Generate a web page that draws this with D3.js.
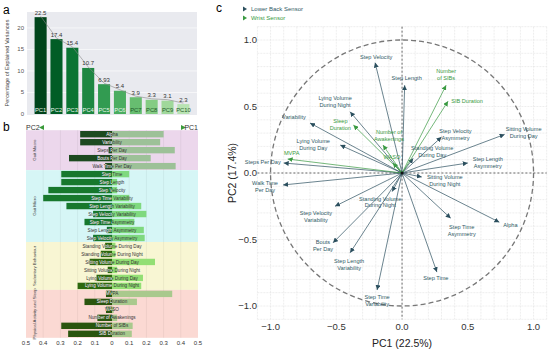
<!DOCTYPE html>
<html>
<head>
<meta charset="utf-8">
<script src="https://cdn.jsdelivr.net/npm/d3@7"></script>
<style>
  body { margin: 0; background: #fff; }
  text { font-family: "Liberation Sans", Arial, sans-serif; }
</style>
</head>
<body>
<svg id="chart" width="550" height="351"></svg>
<script>
// ---- panel a: explained variance per component
const pcNames = ['PC1', 'PC2', 'PC3', 'PC4', 'PC5', 'PC6', 'PC7', 'PC8', 'PC9', 'PC10'];
const explainedVar = [22.5, 17.4, 15.4, 10.7, 6.93, 5.4, 3.9, 3.3, 3.1, 2.3];
const varTicks = [0, 5, 10, 15, 20];

// ---- panel b: absolute loadings on PC1 (right) and PC2 (left)
const groupNames = ['Gait Macro', 'Gait Micro', 'Sedentary Behaviour', 'Physical Activity and Sleep'];
const featureNames = [
  'Alpha', 'Variability', 'Steps Per Day', 'Bouts Per Day', 'Walk Time Per Day',
  'Step Time', 'Step Length', 'Step Velocity', 'Step Time Variability', 'Step Length Variability',
  'Step Velocity Variability', 'Step Time Asymmetry', 'Step Length Asymmetry', 'Step Velocity Asymmetry',
  'Standing Volume During Day', 'Standing Volume During Night', 'Sitting Volume During Day',
  'Sitting Volume During Night', 'Lying Volume During Day', 'Lying Volume During Night',
  'MVPA', 'Sleep Duration', 'WASO', 'Number of Awakenings', 'Number of SIBs', 'SIB Duration'
];
const featureGroup = [
  'Gait Macro', 'Gait Macro', 'Gait Macro', 'Gait Macro', 'Gait Macro',
  'Gait Micro', 'Gait Micro', 'Gait Micro', 'Gait Micro', 'Gait Micro',
  'Gait Micro', 'Gait Micro', 'Gait Micro', 'Gait Micro',
  'Sedentary Behaviour', 'Sedentary Behaviour', 'Sedentary Behaviour',
  'Sedentary Behaviour', 'Sedentary Behaviour', 'Sedentary Behaviour',
  'Physical Activity and Sleep', 'Physical Activity and Sleep', 'Physical Activity and Sleep',
  'Physical Activity and Sleep', 'Physical Activity and Sleep', 'Physical Activity and Sleep'
];
const pc1Loadings = [0.30, 0.28, 0.365, 0.225, 0.37, 0.10, 0.03, 0.03, 0.10, 0.17, 0.20, 0.13, 0.185,
  0.19, 0.02, 0.02, 0.25, 0.03, 0.18, 0.17, 0.35, 0.145, 0.01, 0.03, 0.12, 0.115];
const pc2Loadings = [0.185, 0.185, 0.02, 0.25, 0.04, 0.295, 0.295, 0.37, 0.40, 0.265, 0.11, 0.16, 0.03,
  0.11, 0.04, 0.065, 0.13, 0.025, 0.09, 0.20, 0.035, 0.16, 0.035, 0.085, 0.295, 0.255];
const loadingTicks = [-0.5, -0.4, -0.3, -0.2, -0.1, 0, 0.1, 0.2, 0.3, 0.4, 0.5];

// ---- panel c: biplot vectors
const sensorNames = ['Lower Back Sensor', 'Wrist Sensor'];
const vecLabels = [
  'Step Velocity', 'Step Length', 'Lying Volume\nDuring Night', 'Variability', 'Lying Volume\nDuring Day',
  'Steps Per Day', 'Walk Time\nPer Day', 'Step Velocity\nVariability', 'Standing Volume\nDuring Night',
  'Step Velocity\nAsymmetry', 'Standing Volume\nDuring Day', 'Sitting Volume\nDuring Day',
  'Step Length\nAsymmetry', 'Sitting Volume\nDuring Night', 'Step Time\nAsymmetry', 'Alpha', 'Step Time',
  'Step Time\nVariability', 'Bouts\nPer Day', 'Step Length\nVariability',
  'Number\nof SIBs', 'SIB Duration', 'Sleep\nDuration', 'MVPA', 'Number of\nAwakenings', 'WASO'
];
const vecSensor = [
  'Lower Back Sensor', 'Lower Back Sensor', 'Lower Back Sensor', 'Lower Back Sensor', 'Lower Back Sensor',
  'Lower Back Sensor', 'Lower Back Sensor', 'Lower Back Sensor', 'Lower Back Sensor', 'Lower Back Sensor',
  'Lower Back Sensor', 'Lower Back Sensor', 'Lower Back Sensor', 'Lower Back Sensor', 'Lower Back Sensor',
  'Lower Back Sensor', 'Lower Back Sensor', 'Lower Back Sensor', 'Lower Back Sensor', 'Lower Back Sensor',
  'Wrist Sensor', 'Wrist Sensor', 'Wrist Sensor', 'Wrist Sensor', 'Wrist Sensor', 'Wrist Sensor'
];
const vecPC1 = [-0.205, 0.02, -0.395, -0.70, -0.47, -0.90, -0.905, -0.51, -0.075, 0.30, 0.085, 0.78,
  0.50, 0.15, 0.37, 0.74, 0.265, -0.19, -0.525, -0.395, 0.335, 0.35, -0.37, -0.87, -0.145, -0.07];
const vecPC2 = [0.83, 0.66, 0.46, 0.376, 0.21, 0.075, -0.09, -0.25, -0.14, 0.27, 0.11, 0.29,
  0.075, -0.03, -0.34, -0.37, -0.745, -0.88, -0.525, -0.60, 0.66, 0.54, 0.36, 0.105, 0.21, 0.075];
const axisTicks = [-1, -0.5, 0, 0.5, 1];

// label nudges in px from the arrow tip (centre of first line)
const labelNudge = [
  [1, -6], [2, -7], [-15, -14], [-16, -6], [-27, -4],
  [-21, -1], [-18, -2], [-19, 7], [-12, 7],
  [14, -6], [19, -10], [19, -5],
  [20, -4], [23, 0], [11, 9], [11, 3], [-1, 6],
  [0, 7], [-10, -1], [-1, 8],
  [0, -14], [19, 0], [-13, -4], [4, -6], [6, -13], [-1, -6]
];

const svg = d3.select('#chart');
const font = '"Liberation Sans", Arial, sans-serif';

// panel letters
svg.append('text').attr('x', 3).attr('y', 14).attr('font-size', 12).text('a');
svg.append('text').attr('x', 3).attr('y', 131).attr('font-size', 12).text('b');
svg.append('text').attr('x', 216).attr('y', 12).attr('font-size', 12).text('c');

// ================= panel a
const ax = d3.scaleBand(pcNames, [33, 191]).paddingInner(0.24).paddingOuter(0.1);
const ay = d3.scaleLinear([0, 23.7], [114, 12]);
const pa = svg.append('g');

pa.append('rect').attr('x', 27).attr('y', 12).attr('width', 170).attr('height', 103).attr('fill', '#e9eaef');
pa.selectAll('line.grid').data(varTicks.slice(1)).join('line')
  .attr('x1', 27).attr('x2', 197).attr('y1', d => ay(d)).attr('y2', d => ay(d))
  .attr('stroke', '#fff').attr('stroke-width', 0.6);

pa.selectAll('text.ytick').data(varTicks).join('text')
  .attr('x', 24).attr('y', d => ay(d) + 2).attr('text-anchor', 'end')
  .attr('font-size', 6).attr('fill', '#555').text(d => d);

pa.append('text')
  .attr('transform', `translate(9,${ay(0) / 2 + 6}) rotate(-90)`)
  .attr('text-anchor', 'middle').attr('font-size', 5.6).attr('fill', '#444')
  .text('Percentage of Explained Variances');

const barColor = (d, i) => d3.interpolateGreens(1 - i * 0.078);
pa.selectAll('rect.bar').data(explainedVar).join('rect')
  .attr('x', (d, i) => ax(pcNames[i])).attr('width', ax.bandwidth())
  .attr('y', d => ay(d)).attr('height', d => ay(0) - ay(d))
  .attr('fill', barColor);

pa.append('path')
  .datum(explainedVar)
  .attr('d', d3.line((d, i) => ax(pcNames[i]) + ax.bandwidth() / 2, d => ay(d) - 1))
  .attr('fill', 'none').attr('stroke', '#888').attr('stroke-width', 0.6);

pa.selectAll('text.val').data(explainedVar).join('text')
  .attr('x', (d, i) => ax(pcNames[i]) + ax.bandwidth() / 2).attr('y', d => ay(d) - 2.5)
  .attr('text-anchor', 'middle').attr('font-size', 6).attr('fill', '#333').text(d => d);

pa.selectAll('text.pc').data(pcNames).join('text')
  .attr('x', d => ax(d) + ax.bandwidth() / 2).attr('y', 112)
  .attr('text-anchor', 'middle').attr('font-size', 5.8)
  .attr('fill', (d, i) => i < 6 ? '#e8f5e9' : '#1f5a2a').text(d => d);

// ================= panel b
const bx = d3.scaleLinear([-0.5, 0.5], [26, 198]);
const by = d3.scaleBand(featureNames, [131, 337]).paddingInner(0.2);
const pb = svg.append('g');
const groupBg = { 'Gait Macro': '#ecd7ec', 'Gait Micro': '#d6f6f6', 'Sedentary Behaviour': '#f8f6d3', 'Physical Activity and Sleep': '#fbd9d3' };
const groupDark = { 'Gait Macro': '#1d4a20', 'Gait Micro': '#17782d', 'Sedentary Behaviour': '#2c690e', 'Physical Activity and Sleep': '#2a550e' };
const groupLight = { 'Gait Macro': '#9dc198', 'Gait Micro': '#7fd97f', 'Sedentary Behaviour': '#93df74', 'Physical Activity and Sleep': '#a9c98d' };

const step = by.step();
const groupSpans = groupNames.map(g => {
  const idx = featureGroup.map((f, i) => f === g ? i : -1).filter(i => i >= 0);
  const y0 = by(featureNames[idx[0]]) - step * by.paddingInner() / 2;
  const y1 = by(featureNames[idx[idx.length - 1]]) + by.bandwidth() + step * by.paddingInner() / 2;
  return { g, y0, y1 };
});

pb.selectAll('rect.grp').data(groupSpans).join('rect')
  .attr('x', bx(-0.5)).attr('width', bx(0.5) - bx(-0.5))
  .attr('y', d => d.y0).attr('height', d => d.y1 - d.y0)
  .attr('fill', d => groupBg[d.g]);

pb.selectAll('line.vgrid').data(loadingTicks.slice(1, -1)).join('line')
  .attr('x1', d => bx(d)).attr('x2', d => bx(d))
  .attr('y1', groupSpans[0].y0).attr('y2', groupSpans[3].y1)
  .attr('stroke', '#000').attr('stroke-opacity', 0.1).attr('stroke-width', 0.5);

pb.selectAll('text.grp').data(groupSpans).join('text')
  .attr('transform', d => `translate(36,${(d.y0 + d.y1) / 2}) rotate(-90)`)
  .attr('text-anchor', 'middle').attr('font-size', 4.3).attr('fill', '#444')
  .text(d => d.g);

pb.selectAll('rect.pc1').data(pc1Loadings).join('rect')
  .attr('x', bx(0)).attr('width', d => bx(d) - bx(0))
  .attr('y', (d, i) => by(featureNames[i])).attr('height', by.bandwidth())
  .attr('fill', (d, i) => groupLight[featureGroup[i]]);

const darkBars = pb.selectAll('rect.pc2').data(pc2Loadings).join('rect')
  .attr('x', d => bx(-d)).attr('width', d => bx(0) - bx(-d))
  .attr('y', (d, i) => by(featureNames[i])).attr('height', by.bandwidth())
  .attr('fill', (d, i) => groupDark[featureGroup[i]]);

// clip copy of the dark bars so that labels turn white over them
const clip = svg.append('defs').append('clipPath').attr('id', 'darkclip');
clip.selectAll('rect').data(pc2Loadings).join('rect')
  .attr('x', d => bx(-d)).attr('width', d => bx(0) - bx(-d))
  .attr('y', (d, i) => by(featureNames[i])).attr('height', by.bandwidth());

function rowLabels(g, color) {
  g.selectAll('text').data(featureNames).join('text')
    .attr('x', bx(0)).attr('y', d => by(d) + by.bandwidth() / 2 + 1.6)
    .attr('text-anchor', 'middle').attr('font-size', 4.6).attr('fill', color)
    .text(d => d);
}
rowLabels(pb.append('g'), '#333');
rowLabels(pb.append('g').attr('clip-path', 'url(#darkclip)'), '#fff');

pb.selectAll('text.xtick').data(loadingTicks).join('text')
  .attr('x', d => bx(d)).attr('y', 345).attr('text-anchor', 'middle')
  .attr('font-size', 6).attr('fill', '#333')
  .text(d => d === 0 ? '0' : d3.format('.1f')(Math.abs(d)));

// PC direction header
pb.append('text').attr('x', 26).attr('y', 129.5).attr('font-size', 7).attr('fill', '#333').text('PC2');
pb.append('path').attr('d', 'M39,127.5 L44,125 L44,130 Z').attr('fill', '#3a9a3a');
pb.append('path').attr('d', 'M181,125 L186,127.5 L181,130 Z').attr('fill', '#3a9a3a');
pb.append('text').attr('x', 198).attr('y', 129.5).attr('text-anchor', 'end').attr('font-size', 7).attr('fill', '#333').text('PC1');

// ================= panel c
const cx = d3.scaleLinear([-1.1, 1.1], [257.4, 546.7]);
const cy = d3.scaleLinear([-1.1, 1.1], [319.3, 26.7]);
const pc = svg.append('g');
const sensorColor = { 'Lower Back Sensor': '#2b4f5e', 'Wrist Sensor': '#3a9a42' };
const sensorText = { 'Lower Back Sensor': '#2f5a66', 'Wrist Sensor': '#3a9a42' };

const gridVals = d3.range(-11, 12).map(v => v / 10);
pc.selectAll('line.gx').data(gridVals).join('line')
  .attr('x1', d => cx(d)).attr('x2', d => cx(d)).attr('y1', cy(1.1)).attr('y2', cy(-1.1))
  .attr('stroke', '#dcdcdc').attr('stroke-width', 0.5).attr('stroke-dasharray', '2,1');
pc.selectAll('line.gy').data(gridVals).join('line')
  .attr('y1', d => cy(d)).attr('y2', d => cy(d)).attr('x1', cx(-1.1)).attr('x2', cx(1.1))
  .attr('stroke', '#dcdcdc').attr('stroke-width', 0.5).attr('stroke-dasharray', '2,1');

pc.append('line').attr('x1', cx(0)).attr('x2', cx(0)).attr('y1', cy(1.1)).attr('y2', cy(-1.1))
  .attr('stroke', '#444').attr('stroke-width', 0.8).attr('stroke-dasharray', '2,2');
pc.append('line').attr('y1', cy(0)).attr('y2', cy(0)).attr('x1', cx(-1.1)).attr('x2', cx(1.1))
  .attr('stroke', '#444').attr('stroke-width', 0.8).attr('stroke-dasharray', '2,2');

pc.append('ellipse').attr('cx', cx(0)).attr('cy', cy(0))
  .attr('rx', cx(1) - cx(0)).attr('ry', cy(0) - cy(1))
  .attr('fill', 'none').attr('stroke', '#777').attr('stroke-width', 1.3).attr('stroke-dasharray', '5,3');

pc.selectAll('text.tx').data(axisTicks).join('text')
  .attr('x', d => cx(d)).attr('y', 330).attr('text-anchor', 'middle')
  .attr('font-size', 9.5).attr('fill', '#333').text(d => d3.format('.1f')(d));
pc.selectAll('text.ty').data(axisTicks).join('text')
  .attr('x', 257).attr('y', d => cy(d) + 3.3).attr('text-anchor', 'end')
  .attr('font-size', 9.5).attr('fill', '#333').text(d => d3.format('.1f')(d));

pc.append('text').attr('x', cx(0)).attr('y', 347).attr('text-anchor', 'middle')
  .attr('font-size', 10.5).attr('fill', '#222').text('PC1 (22.5%)');
pc.append('text').attr('transform', `translate(236,${cy(0)}) rotate(-90)`).attr('text-anchor', 'middle')
  .attr('font-size', 10.5).attr('fill', '#222').text('PC2 (17.4%)');

const defs = svg.select('defs');
sensorNames.forEach((s, k) => {
  defs.append('marker').attr('id', 'arrow' + k)
    .attr('viewBox', '0 -5 10 10').attr('refX', 10).attr('refY', 0)
    .attr('markerUnits', 'userSpaceOnUse').attr('markerWidth', 5).attr('markerHeight', 5)
    .attr('orient', 'auto')
    .append('path').attr('d', 'M0,-5 L10,0 L0,5 Z').attr('fill', sensorColor[s]);
});

pc.selectAll('line.vec').data(vecPC1).join('line')
  .attr('x1', cx(0)).attr('y1', cy(0))
  .attr('x2', d => cx(d)).attr('y2', (d, i) => cy(vecPC2[i]))
  .attr('stroke', (d, i) => sensorColor[vecSensor[i]]).attr('stroke-width', 0.7)
  .attr('marker-end', (d, i) => `url(#arrow${sensorNames.indexOf(vecSensor[i])})`);

pc.append('circle').attr('cx', cx(0)).attr('cy', cy(0)).attr('r', 1.5).attr('fill', '#111');

const vlab = pc.selectAll('text.vl').data(vecLabels).join('text')
  .attr('x', (d, i) => cx(vecPC1[i]) + labelNudge[i][0])
  .attr('y', (d, i) => cy(vecPC2[i]) + labelNudge[i][1] + 2)
  .attr('text-anchor', 'middle').attr('font-size', 5.6)
  .attr('fill', (d, i) => sensorText[vecSensor[i]]);
vlab.each(function (d) {
  const t = d3.select(this);
  d.split('\n').forEach((line, j) => {
    t.append('tspan').attr('x', t.attr('x')).attr('dy', j === 0 ? 0 : 6.8).text(line);
  });
});

// legend
const leg = pc.selectAll('g.leg').data(sensorNames).join('g')
  .attr('transform', (d, i) => `translate(243,${9 + i * 9})`);
leg.append('path').attr('d', 'M0,-2.5 L4,0 L0,2.5 Z').attr('fill', d => sensorColor[d]);
leg.append('text').attr('x', 8).attr('y', 2.2).attr('font-size', 6).attr('fill', d => sensorText[d]).text(d => d);
</script>
</body>
</html>
